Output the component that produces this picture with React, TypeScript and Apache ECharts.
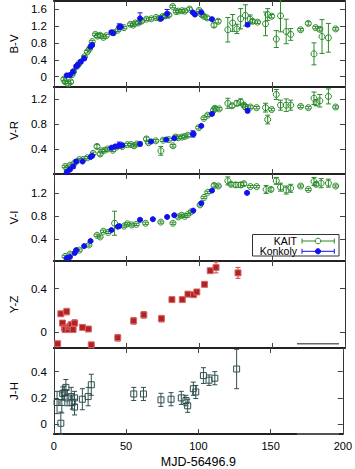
import React, { useEffect, useRef } from "react";
import * as echarts from "echarts";

// ---------- data: [MJD-56496.9, colour, error] ----------
const bvKait: number[][] = [
  [6.8, -0.06, 0.04], [7.7, -0.12, 0.04], [9.9, -0.17, 0.05], [11.5, -0.12, 0.04], [12.5, 0.05, 0.03],
  [13.5, 0.12, 0.03], [16, 0.25, 0.03], [17.5, 0.32, 0.03], [21, 0.47, 0.03], [23, 0.59, 0.03],
  [24.5, 0.66, 0.03], [26.3, 0.83, 0.03], [28.5, 1.0, 0.03], [30, 0.96, 0.04], [31.8, 0.98, 0.04],
  [34, 0.93, 0.03], [36, 0.97, 0.03], [41, 1.04, 0.03], [44, 1.1, 0.03], [48.2, 1.16, 0.03],
  [52.6, 1.24, 0.03], [54.5, 1.22, 0.03], [56, 1.27, 0.03], [58, 1.27, 0.03], [60.5, 1.32, 0.03],
  [63.6, 1.36, 0.03], [66.9, 1.37, 0.03], [70.2, 1.4, 0.03], [72.5, 1.38, 0.03], [74.6, 1.42, 0.03],
  [76.5, 1.44, 0.03], [79, 1.46, 0.03], [81.6, 1.66, 0.03], [84, 1.54, 0.03], [85.5, 1.55, 0.03],
  [88, 1.56, 0.03], [90, 1.55, 0.03], [93.2, 1.6, 0.03], [99.8, 1.57, 0.03], [101.5, 1.47, 0.04],
  [103, 1.43, 0.04], [105.3, 1.39, 0.04], [110, 1.22, 0.05], [112.9, 1.31, 0.04], [119.5, 1.11, 0.29],
  [122.8, 1.27, 0.2], [125.7, 1.13, 0.11], [128.3, 1.37, 0.24], [131.6, 1.45, 0.25], [134.9, 1.36, 0.1],
  [136.5, 1.31, 0.04], [139.9, 1.29, 0.03], [145.4, 1.25, 0.28], [146.9, 1.47, 0.14], [149.6, 1.43, 0.04],
  [152.8, 0.89, 0.2], [155.7, 1.44, 0.38], [159.6, 1.07, 0.29], [162.7, 1.0, 0.14], [169.5, 1.11, 0.03],
  [174.8, 1.26, 0.04], [178.7, 0.54, 0.26], [179.8, 1.16, 0.03], [182.7, 1.12, 0.04], [184.2, 0.95, 0.4],
  [188.6, 0.92, 0.34], [193.6, 1.13, 0.03],
];
const bvKonkoly: number[][] = [
  [8.8, 0.03, 0.03], [11, 0.04, 0.03], [13.2, 0.12, 0.04], [15.3, 0.24, 0.04], [16.4, 0.28, 0.04],
  [18.6, 0.36, 0.04], [20.8, 0.43, 0.04], [25.2, 0.71, 0.04], [26.3, 0.75, 0.04], [39.5, 1.05, 0.04],
  [40.6, 1.03, 0.04], [44.9, 1.18, 0.07], [46, 1.18, 0.04], [59.2, 1.38, 0.13], [73.5, 1.37, 0.04],
  [77.8, 1.49, 0.1], [95.4, 1.52, 0.03], [96.9, 1.47, 0.03], [101.3, 1.52, 0.03], [108.6, 1.36, 0.03],
  [133.1, 1.23, 0.04],
];
const vrKait: number[][] = [
  [7.7, 0.12, 0.02], [9, 0.09, 0.02], [11, 0.14, 0.02], [14, 0.17, 0.02], [17.5, 0.23, 0.02],
  [20, 0.23, 0.02], [23, 0.26, 0.02], [27, 0.33, 0.02], [29.6, 0.44, 0.03], [31.8, 0.32, 0.03],
  [33, 0.37, 0.02], [35, 0.38, 0.02], [37, 0.4, 0.02], [40.5, 0.38, 0.02], [43, 0.43, 0.02],
  [47, 0.44, 0.02], [50.5, 0.47, 0.02], [53, 0.47, 0.02], [55, 0.45, 0.02], [57, 0.48, 0.02],
  [63.6, 0.56, 0.03], [65, 0.5, 0.02], [70, 0.53, 0.02], [73.5, 0.37, 0.07], [75, 0.54, 0.02],
  [79, 0.55, 0.02], [81.8, 0.45, 0.02], [83.5, 0.59, 0.02], [85.5, 0.58, 0.02], [88, 0.59, 0.02],
  [89.9, 0.6, 0.02], [92, 0.62, 0.02], [99.5, 0.74, 0.02], [103.1, 0.89, 0.02], [105.7, 0.94, 0.02],
  [109.7, 1.02, 0.03], [110.7, 1.05, 0.03], [113.6, 1.04, 0.02], [119.5, 1.13, 0.08], [122.4, 1.09, 0.03],
  [125.7, 1.13, 0.04], [128.3, 1.15, 0.05], [130.5, 1.1, 0.03], [131.6, 1.07, 0.04], [135, 1.07, 0.02],
  [139.3, 1.06, 0.02], [145.4, 1.06, 0.07], [146.9, 0.87, 0.07], [149.6, 1.03, 0.02], [152.8, 1.27, 0.08],
  [155.7, 1.1, 0.08], [159.6, 1.1, 0.1], [162.7, 1.1, 0.08], [169.5, 1.08, 0.02], [174.8, 1.06, 0.02],
  [178.7, 1.21, 0.1], [180.2, 1.14, 0.05], [182.7, 1.17, 0.1], [188.6, 1.24, 0.12], [193.6, 1.07, 0.02],
];
const vrKonkoly: number[][] = [
  [8.8, 0.03, 0.02], [11, 0.07, 0.02], [13.2, 0.12, 0.03], [15.3, 0.2, 0.03], [19.7, 0.2, 0.02],
  [25.2, 0.27, 0.02], [26.3, 0.29, 0.02], [39.5, 0.42, 0.02], [42, 0.44, 0.02], [44.9, 0.46, 0.05],
  [47, 0.46, 0.02], [59.2, 0.48, 0.03], [66.9, 0.52, 0.02], [77.2, 0.55, 0.02], [82.7, 0.57, 0.02],
  [95.4, 0.64, 0.05], [96, 0.64, 0.03], [101.3, 0.77, 0.02], [108.6, 0.96, 0.02], [133.1, 1.01, 0.03],
];
const viKait: number[][] = [
  [7.7, 0.1, 0.02], [11, 0.14, 0.02], [17.5, 0.21, 0.02], [24.1, 0.3, 0.02], [29.6, 0.47, 0.02],
  [31.8, 0.44, 0.02], [34, 0.54, 0.02], [37.3, 0.52, 0.02], [41.7, 0.68, 0.21], [48.2, 0.63, 0.02],
  [50.5, 0.67, 0.02], [53.5, 0.65, 0.02], [56.6, 0.66, 0.02], [63, 0.68, 0.02], [73.5, 0.7, 0.02],
  [81.8, 0.68, 0.02], [85.5, 0.79, 0.02], [87.7, 0.82, 0.02], [89.9, 0.8, 0.02], [92, 0.83, 0.02],
  [94.3, 0.88, 0.02], [100.4, 1.0, 0.02], [103.1, 1.13, 0.02], [105.7, 1.22, 0.02], [110.1, 1.34, 0.03],
  [113, 1.33, 0.02], [119.5, 1.42, 0.07], [121.7, 1.36, 0.03], [125, 1.35, 0.04], [128.3, 1.35, 0.04],
  [130.5, 1.37, 0.03], [135, 1.32, 0.02], [139.3, 1.32, 0.02], [145.8, 1.27, 0.07], [149.1, 1.27, 0.03],
  [152.8, 1.42, 0.06], [155.7, 1.31, 0.07], [159.6, 1.26, 0.07], [162.7, 1.29, 0.07], [169.5, 1.33, 0.02],
  [174.8, 1.27, 0.02], [178.7, 1.41, 0.07], [180.2, 1.36, 0.03], [183.6, 1.38, 0.08], [188.6, 1.38, 0.07],
  [193.6, 1.33, 0.02],
];
const viKonkoly: number[][] = [
  [8.8, 0.07, 0.02], [11, 0.09, 0.02], [14.3, 0.16, 0.02], [15.3, 0.21, 0.02], [20.8, 0.28, 0.02],
  [25.2, 0.37, 0.02], [39.5, 0.56, 0.02], [43.9, 0.62, 0.02], [45, 0.63, 0.02], [59.2, 0.74, 0.02],
  [68, 0.75, 0.02], [77.8, 0.79, 0.02], [82.7, 0.82, 0.02], [95.8, 0.9, 0.02], [101.3, 1.03, 0.02],
  [108.6, 1.25, 0.02], [132.7, 1.21, 0.02],
];
const yzData: number[][] = [
  [2.6, -0.105, 0.02], [4.8, 0.17, 0.02], [5.9, 0.085, 0.02], [7.2, 0.04, 0.02], [7.7, 0.025, 0.02],
  [8.8, 0.19, 0.03], [9.9, 0.025, 0.02], [11, 0.055, 0.03], [12, 0.07, 0.02], [13.2, 0.025, 0.02],
  [14.3, 0.085, 0.03], [19.7, 0.045, 0.02], [23.7, 0.03, 0.02], [25.7, -0.115, 0.02], [43.9, -0.05, 0.03],
  [54.8, 0.105, 0.03], [61.8, 0.16, 0.03], [73.9, 0.125, 0.03], [81.1, 0.3, 0.02], [88.2, 0.3, 0.02],
  [92.1, 0.35, 0.02], [96, 0.345, 0.02], [98.2, 0.37, 0.02], [103.5, 0.44, 0.02], [107.4, 0.565, 0.02],
  [111.4, 0.595, 0.05], [126.5, 0.545, 0.05],
];
const jhData: number[][] = [
  [2.2, 0.165, 0.085], [4.8, 0.007, 0.085], [5.5, 0.165, 0.08], [6.1, 0.233, 0.05], [7.2, 0.24, 0.05],
  [8.3, 0.28, 0.06], [9.2, 0.2, 0.06], [12, 0.21, 0.07], [12.7, 0.165, 0.05], [14.3, 0.2, 0.05],
  [14.3, 0.13, 0.06], [19.7, 0.19, 0.08], [23.7, 0.21, 0.07], [25.9, 0.3, 0.08], [55.3, 0.23, 0.05],
  [62, 0.23, 0.05], [74.1, 0.185, 0.05], [81.1, 0.19, 0.05], [88.2, 0.2, 0.05], [91.4, 0.18, 0.04],
  [92.6, 0.14, 0.05], [96.5, 0.27, 0.05], [98.2, 0.245, 0.05], [103.5, 0.37, 0.06], [107.4, 0.335, 0.04],
  [111.4, 0.35, 0.05], [126.5, 0.42, 0.15],
];

const panelNames = ["B-V", "V-R", "V-I", "Y-Z", "J-H"];
const yRanges = [[-0.244, 1.79], [0, 1.39], [0.02, 1.54], [-0.144, 0.654], [-0.075, 0.58]];
const yTicks = [[0, 0.4, 0.8, 1.2, 1.6], [0.4, 0.8, 1.2], [0.4, 0.8, 1.2], [0, 0.4], [0, 0.2, 0.4]];
const xTicks = [0, 50, 100, 150, 200];
const legendNames = ["KAIT", "Konkoly"];

const GREEN = "#2a8a2a";
const BLUE = "#1010f0";
const RED = "#b22222";
const SLATE = "#2f4f4f";
const FONT = "'Liberation Sans', Arial, sans-serif";

const tops = [1, 87, 174, 261, 348];
const heights = [86, 87, 87, 87, 90];

function errSeries(data: number[][], panel: number, color: string) {
  return {
    type: "custom",
    xAxisIndex: panel * 2,
    yAxisIndex: panel * 2,
    dimensions: ["x", "y", "err"],
    encode: { x: 0, y: 1 },
    data,
    silent: true,
    renderItem: (_p: any, api: any) => {
      const x = api.value(0), y = api.value(1), e = api.value(2);
      const lo = api.coord([x, y - e]);
      const hi = api.coord([x, y + e]);
      const c = 2.5;
      const st = { stroke: color, lineWidth: 1 };
      return {
        type: "group",
        children: [
          { type: "line", shape: { x1: lo[0], y1: lo[1], x2: hi[0], y2: hi[1] }, style: st },
          { type: "line", shape: { x1: lo[0] - c, y1: lo[1], x2: lo[0] + c, y2: lo[1] }, style: st },
          { type: "line", shape: { x1: hi[0] - c, y1: hi[1], x2: hi[0] + c, y2: hi[1] }, style: st },
        ],
      };
    },
  };
}

function markSeries(data: number[][], panel: number, symbol: string, fill: string, border: string, size = 6) {
  return {
    type: "scatter",
    xAxisIndex: panel * 2,
    yAxisIndex: panel * 2,
    data: data.map((d) => [d[0], d[1]]),
    symbol,
    symbolSize: size,
    silent: true,
    itemStyle: { color: fill, borderColor: border, borderWidth: 1, opacity: 1 },
  };
}

export default function App() {
  const ref = useRef<HTMLDivElement>(null);
  useEffect(() => {
    if (!ref.current) return;
    const chart = echarts.init(ref.current, null, { renderer: "svg" });
    const grids = tops.map((t, i) => ({ left: 40, right: 10, top: t, height: heights[i], show: false }));
    const xAxes: any[] = [];
    const yAxes: any[] = [];
    for (let i = 0; i < 5; i++) {
      const base = {
        type: "value", gridIndex: i, min: 0, max: 200,
        splitLine: { show: false },
        axisLine: { show: true, onZero: false, lineStyle: { color: "#222", width: 2 } },
        axisTick: { show: true, inside: true, length: 5, customValues: xTicks, lineStyle: { color: "#444" } },
      };
      xAxes.push({
        ...base, position: "bottom",
        axisLabel: {
          show: i === 4, customValues: xTicks, fontSize: 11, color: "#000", fontFamily: FONT, margin: 6,
        },
        name: i === 4 ? "MJD-56496.9" : "",
        nameLocation: "middle", nameGap: 21,
        nameTextStyle: { fontSize: 12.5, color: "#000", fontFamily: FONT },
      });
      xAxes.push({ ...base, position: "top", axisLabel: { show: false } });
      const ybase = {
        type: "value", gridIndex: i, min: yRanges[i][0], max: yRanges[i][1],
        splitLine: { show: false },
        axisLine: { show: true, onZero: false, lineStyle: { color: "#333", width: 1 } },
        axisTick: { show: true, inside: true, length: 5, customValues: yTicks[i], lineStyle: { color: "#444" } },
      };
      yAxes.push({
        ...ybase, position: "left",
        axisLabel: {
          show: true, customValues: yTicks[i], fontSize: 11.5, color: "#000", fontFamily: FONT, margin: 7,
          formatter: (v: number) => String(Math.round(v * 10) / 10),
        },
        name: panelNames[i], nameLocation: "middle", nameRotate: 90, nameGap: 28,
        nameTextStyle: { fontSize: 11.5, color: "#000", fontFamily: FONT },
      });
      yAxes.push({ ...ybase, position: "right", axisLabel: { show: false } });
    }
    const series: any[] = [
      errSeries(bvKait, 0, GREEN), markSeries(bvKait, 0, "circle", "rgba(0,0,0,0)", GREEN),
      errSeries(bvKonkoly, 0, BLUE), markSeries(bvKonkoly, 0, "circle", BLUE, BLUE, 5),
      errSeries(vrKait, 1, GREEN), markSeries(vrKait, 1, "circle", "rgba(0,0,0,0)", GREEN),
      errSeries(vrKonkoly, 1, BLUE), markSeries(vrKonkoly, 1, "circle", BLUE, BLUE, 5),
      errSeries(viKait, 2, GREEN), markSeries(viKait, 2, "circle", "rgba(0,0,0,0)", GREEN),
      errSeries(viKonkoly, 2, BLUE), markSeries(viKonkoly, 2, "circle", BLUE, BLUE, 5),
      errSeries(yzData, 3, "#c44"), markSeries(yzData, 3, "rect", RED, "#d86a6a", 6),
      errSeries(jhData, 4, SLATE), markSeries(jhData, 4, "rect", "rgba(0,0,0,0)", SLATE, 6),
    ];
    const lgFont = `10.5px ${FONT}`;
    const graphic: any[] = [
      { type: "rect", shape: { x: 252.5, y: 234.5, width: 86.5, height: 21.5 }, style: { fill: "#fff", stroke: "#333", lineWidth: 1 }, z: 100 },
      { type: "text", x: 297, y: 240.7, style: { text: legendNames[0], fill: "#000", font: lgFont, align: "right", verticalAlign: "middle" }, z: 101 },
      { type: "text", x: 297, y: 251.2, style: { text: legendNames[1], fill: "#000", font: lgFont, align: "right", verticalAlign: "middle" }, z: 101 },
      { type: "line", shape: { x1: 302, y1: 241, x2: 334.3, y2: 241 }, style: { stroke: GREEN, lineWidth: 1 }, z: 101 },
      { type: "line", shape: { x1: 302, y1: 238.5, x2: 302, y2: 243.5 }, style: { stroke: GREEN, lineWidth: 1 }, z: 101 },
      { type: "line", shape: { x1: 334.3, y1: 238.5, x2: 334.3, y2: 243.5 }, style: { stroke: GREEN, lineWidth: 1 }, z: 101 },
      { type: "circle", shape: { cx: 318, cy: 241, r: 2.8 }, style: { fill: "#fff", stroke: GREEN, lineWidth: 1 }, z: 102 },
      { type: "line", shape: { x1: 302, y1: 251.3, x2: 334.3, y2: 251.3 }, style: { stroke: BLUE, lineWidth: 1 }, z: 101 },
      { type: "line", shape: { x1: 302, y1: 248.8, x2: 302, y2: 253.8 }, style: { stroke: BLUE, lineWidth: 1 }, z: 101 },
      { type: "line", shape: { x1: 334.3, y1: 248.8, x2: 334.3, y2: 253.8 }, style: { stroke: BLUE, lineWidth: 1 }, z: 101 },
      { type: "circle", shape: { cx: 318, cy: 251.3, r: 2.6 }, style: { fill: BLUE, stroke: BLUE, lineWidth: 1 }, z: 102 },
      { type: "line", shape: { x1: 297, y1: 343.7, x2: 339, y2: 343.7 }, style: { stroke: "#666", lineWidth: 1.5 }, z: 100 },
      { type: "line", shape: { x1: 297, y1: 434, x2: 339, y2: 434 }, style: { stroke: "#666", lineWidth: 1.5 }, z: 100 },
    ];
    chart.setOption({
      animation: false,
      backgroundColor: "#fff",
      textStyle: { fontFamily: FONT },
      grid: grids,
      xAxis: xAxes,
      yAxis: yAxes,
      series,
      graphic,
    });
    return () => chart.dispose();
  }, []);
  return <div ref={ref} style={{ width: 355, height: 469, position: "absolute", left: 0, top: 0 }} />;
}
